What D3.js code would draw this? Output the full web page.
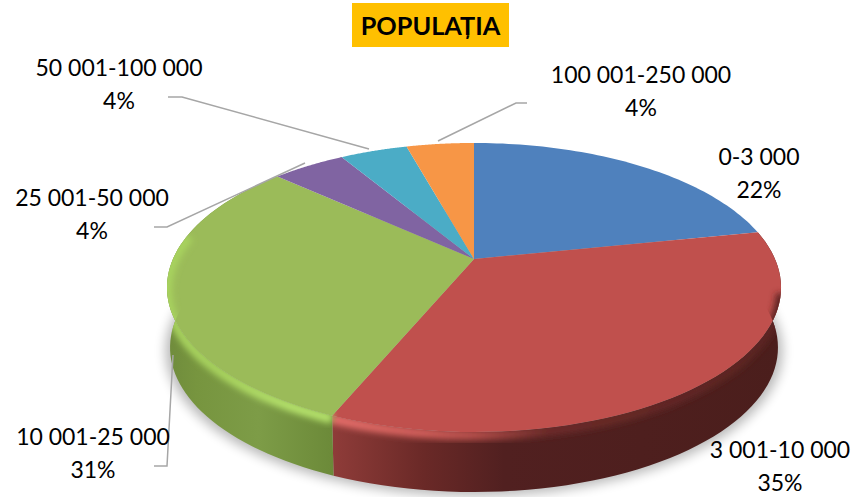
<!DOCTYPE html>
<html>
<head>
<meta charset="utf-8">
<script src="https://cdn.jsdelivr.net/npm/d3@7"></script>
<style>
  html, body { margin: 0; padding: 0; background: #fff; }
  svg { display: block; }
  text { font-family: Lato, "Noto Sans", sans-serif; fill: #000; }
</style>
</head>
<body>
<div id="chart"></div>
<script>
// Data
var categories = ["0-3 000", "3 001-10 000", "10 001-25 000", "25 001-50 000", "50 001-100 000", "100 001-250 000"];
var percentLabels = ["22%", "35%", "31%", "4%", "4%", "4%"];
// slice sizes
var shares = [21.8, 34.5, 30.45, 4.65, 4.3, 4.3];
var colors = ["#4f81bd", "#c0504d", "#9bbb59", "#8064a2", "#4bacc6", "#f79646"];

var svgWidth = 864, svgHeight = 497;

var svg = d3.select("#chart").append("svg")
  .attr("width", svgWidth)
  .attr("height", svgHeight);
var defs = svg.append("defs");

// perspective of the disc: front part of the ellipse is closer
var cx = 474, cy = 259, rx = 301, ry = 138.9, persp = 0.1972;
var depth = 60, bottomScale = 0.99;

function project(r, angle, drop, scale) {
  var x = r * Math.sin(angle);
  var y = -r * Math.cos(angle);
  var w = 1 - persp * y;
  return [cx + (scale || 1) * rx * x / w, cy + (drop || 0) + ry * y / w];
}

var arcs = d3.pie().sort(null).value(d => d)(shares);
var line = d3.line();

function arcPoints(a, r, drop, scale) {
  return d3.range(0, 61).map(i => project(r, a.startAngle + (a.endAngle - a.startAngle) * i / 60, drop, scale));
}
function wallPoints(a) {
  return arcPoints(a, 1).concat(arcPoints(a, 1, depth, bottomScale).reverse());
}
function sectorPoints(a, r) {
  return [[cx, cy]].concat(arcPoints(a, r));
}

// Filters
defs.append("filter").attr("id", "shadowBlur")
  .attr("x", "-10%").attr("y", "-10%").attr("width", "120%").attr("height", "120%")
  .append("feGaussianBlur").attr("stdDeviation", 6);
defs.append("filter").attr("id", "bevelBlur")
  .attr("x", "-5%").attr("y", "-5%").attr("width", "110%").attr("height", "110%")
  .append("feGaussianBlur").attr("stdDeviation", 3);

function hGradient(id, stops) {
  var g = defs.append("linearGradient").attr("id", id)
    .attr("gradientUnits", "userSpaceOnUse")
    .attr("x1", 166).attr("x2", 781).attr("y1", 0).attr("y2", 0);
  stops.forEach(s => g.append("stop").attr("offset", s[0]).attr("stop-color", s[1]));
}
hGradient("wall1", [[0, "#8f3c39"], [0.27, "#8f3c39"], [0.42, "#6a2927"], [0.55, "#512020"], [1, "#4b1e1c"]]);
hGradient("wall2", [[0, "#6f8b3c"], [0.05, "#77953f"], [0.15, "#7d9c47"], [0.27, "#6c8a39"]]);
hGradient("bevel1", [[0, "#e66f6b"], [0.27, "#e66f6b"], [0.42, "#d25f5b"], [0.5, "#b8504c"], [0.62, "#6e2c2a"], [1, "#5a2422"]]);
hGradient("bevel2", [[0, "#a8d35e"], [0.08, "#a8d35e"], [0.2, "#b5e26c"], [0.27, "#b5e26c"]]);

// Shadow under the disc
var shadowArc = {startAngle: 0, endAngle: 2 * Math.PI};
svg.append("path")
  .attr("d", line(arcPoints(shadowArc, 1.005, depth + 3, 1)) + "Z")
  .attr("fill", "#000").attr("opacity", 0.28)
  .attr("filter", "url(#shadowBlur)");

// Side wall, only red and green are seen from the front
arcs.forEach((a, i) => {
  if (i != 1 && i != 2) return;
  svg.append("path")
    .attr("d", line(wallPoints(a)) + "Z")
    .attr("fill", `url(#wall${i})`);
});

// Top surface
svg.append("g").selectAll("path").data(arcs).enter().append("path")
  .attr("d", a => line(sectorPoints(a, 1)) + "Z")
  .attr("fill", (a, i) => colors[i]);

// Rounded edge with highlight, it does not go round the back of the disc
var bevelCut = {1: [0.42, 0], 2: [0, 0.55]};
arcs.forEach((a, i) => {
  if (i != 1 && i != 2) return;
  defs.append("clipPath").attr("id", `clip${i}`)
    .append("path")
    .attr("d", line(sectorPoints(a, 1).concat(arcPoints(a, 1, depth, bottomScale).reverse())) + "Z");
  var part = {startAngle: a.startAngle + bevelCut[i][0], endAngle: a.endAngle - bevelCut[i][1]};
  svg.append("g").attr("clip-path", `url(#clip${i})`)
    .append("path")
    .attr("d", line(arcPoints(part, 1, 3)))
    .attr("fill", "none")
    .attr("stroke", `url(#bevel${i})`)
    .attr("stroke-width", 10)
    .attr("filter", "url(#bevelBlur)");
});

// Leader lines
var leaders = [
  [[438, 141], [516, 103], [527, 103]],
  [[369, 149], [182, 97], [168, 97]],
  [[305, 163], [167, 227], [154, 227]],
  [[173, 355], [167, 466], [154, 466]]
];
svg.append("g").selectAll("path").data(leaders).enter().append("path")
  .attr("d", d => line(d))
  .attr("fill", "none")
  .attr("stroke", "#a6a6a6")
  .attr("stroke-width", 1.5);

// Labels
var labelPos = [[759, 165], [780, 458], [93, 445], [92, 206], [119, 76], [641, 83]];
var labels = svg.append("g").selectAll("g").data(categories).enter().append("g")
  .attr("text-anchor", "middle")
  .attr("font-size", 23);
labels.append("text")
  .attr("x", (d, i) => labelPos[i][0])
  .attr("y", (d, i) => labelPos[i][1])
  .text(d => d);
labels.append("text")
  .attr("x", (d, i) => labelPos[i][0])
  .attr("y", (d, i) => labelPos[i][1] + 33)
  .text((d, i) => percentLabels[i]);

// Title
svg.append("rect")
  .attr("x", 352).attr("y", 3)
  .attr("width", 157).attr("height", 44)
  .attr("fill", "#ffc000");
svg.append("text")
  .attr("x", 430.5).attr("y", 35)
  .attr("text-anchor", "middle")
  .attr("font-size", 25.3)
  .attr("font-weight", "bold")
  .text("POPULAȚIA");
</script>
</body>
</html>
